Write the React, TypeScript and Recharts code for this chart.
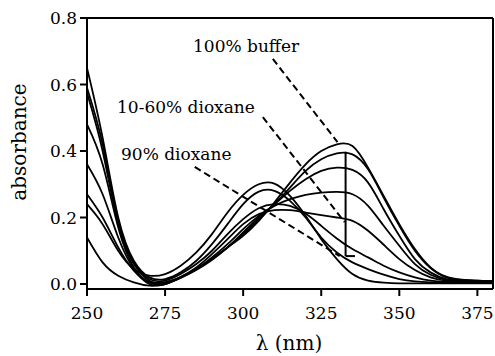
import { Line, LineChart, ReferenceLine, XAxis, YAxis } from 'recharts';

document.body.style.margin = '0';

const wavelength = [
  250, 255, 260, 265, 270, 275, 280, 285, 290, 295, 300, 305, 310, 315, 320, 325, 330, 335, 340, 345,
  350, 355, 360, 365, 370, 375, 380,
];

// absorbance, one list per dioxane fraction
const buffer100 = [
  0.14, 0.065, 0.025, 0.005, -0.005, 0.0, 0.02, 0.045, 0.075, 0.11, 0.145, 0.19, 0.245, 0.305, 0.36,
  0.4, 0.42, 0.415, 0.35, 0.265, 0.18, 0.105, 0.05, 0.022, 0.013, 0.01, 0.008,
];
const dioxane10 = [
  0.27, 0.2, 0.11, 0.04, 0.005, 0.005, 0.02, 0.045, 0.075, 0.11, 0.15, 0.195, 0.24, 0.29, 0.34, 0.375,
  0.393, 0.39, 0.345, 0.26, 0.175, 0.1, 0.048, 0.02, 0.012, 0.01, 0.008,
];
const dioxane20 = [
  0.36, 0.27, 0.14, 0.045, 0.0, 0.0, 0.018, 0.042, 0.072, 0.11, 0.155, 0.2, 0.24, 0.28, 0.315, 0.34,
  0.35, 0.343, 0.305, 0.225, 0.145, 0.075, 0.035, 0.015, 0.01, 0.008, 0.008,
];
const dioxane30 = [
  0.48, 0.36, 0.17, 0.05, 0.005, 0.0, 0.02, 0.045, 0.08, 0.12, 0.165, 0.205, 0.235, 0.255, 0.268, 0.275,
  0.277, 0.27, 0.235, 0.175, 0.115, 0.06, 0.028, 0.013, 0.009, 0.008, 0.008,
];
const dioxane40 = [
  0.575, 0.4, 0.18, 0.06, 0.01, 0.005, 0.022, 0.05, 0.09, 0.135, 0.18, 0.21, 0.222, 0.222, 0.215, 0.207,
  0.2, 0.19, 0.16, 0.118, 0.075, 0.042, 0.02, 0.01, 0.008, 0.008, 0.008,
];
const dioxane50 = [
  0.59, 0.42, 0.19, 0.065, 0.015, 0.01, 0.03, 0.06, 0.1, 0.15, 0.195, 0.228, 0.24, 0.235, 0.212, 0.175,
  0.137, 0.105, 0.08, 0.055, 0.035, 0.02, 0.01, 0.006, 0.005, 0.005, 0.005,
];
const dioxane60 = [
  0.65, 0.44, 0.2, 0.07, 0.02, 0.015, 0.035, 0.07, 0.12, 0.18, 0.24, 0.278, 0.28, 0.25, 0.2, 0.14,
  0.095, 0.065, 0.045, 0.028, 0.015, 0.008, 0.005, 0.004, 0.004, 0.004, 0.004,
];
const dioxane90 = [
  0.24, 0.18, 0.1, 0.045, 0.025, 0.03, 0.055, 0.095, 0.15, 0.215, 0.268, 0.3, 0.302, 0.265, 0.205, 0.135,
  0.075, 0.03, 0.01, 0.004, 0.002, 0.002, 0.002, 0.002, 0.002, 0.002, 0.002,
];

const seriesKeys = ['b100', 'd10', 'd20', 'd30', 'd40', 'd50', 'd60', 'd90'];
const seriesValues = [buffer100, dioxane10, dioxane20, dioxane30, dioxane40, dioxane50, dioxane60, dioxane90];

const xTicks = [250, 275, 300, 325, 350, 375];
const yTicks = [0, 0.2, 0.4, 0.6, 0.8];

// leader lines from the labels to the curves, [x1, y1, x2, y2] in data units
const leaders = [
  [309.5, 0.677, 330.2, 0.427],
  [306.3, 0.502, 332.5, 0.186],
  [284.5, 0.352, 330.9, 0.084],
];
const arrow = { x: 332.8, top: 0.398, bottom: 0.084, foot: 335.8 };

const data = wavelength.map((nm, i) => {
  const row: Record<string, number> = { nm };
  seriesKeys.forEach((k, s) => {
    row[k] = seriesValues[s][i];
  });
  return row;
});

const serif = { fontFamily: 'DejaVu Serif', fill: '#000' };

const XTick = ({ x, y, payload }: any) => (
  <text x={x} y={y + 12} textAnchor="middle" fontSize={17} style={serif}>
    {payload.value}
  </text>
);

const YTick = ({ x, y, payload }: any) => (
  <text x={x} y={y + 6} textAnchor="end" fontSize={17} style={serif}>
    {Number(payload.value).toFixed(1)}
  </text>
);

export default function App() {
  return (
    <div style={{ position: 'relative', width: 495, height: 356, background: '#fff' }}>
      <LineChart width={495} height={356} data={data} margin={{ top: 18, right: 2, left: 0, bottom: 0 }}>
        <XAxis
          dataKey="nm"
          type="number"
          domain={[250, 380]}
          ticks={xTicks}
          allowDataOverflow
          height={67}
          tickSize={7}
          tickMargin={11}
          tick={<XTick />}
          stroke="#000"
          strokeWidth={2}
        />
        <YAxis
          type="number"
          domain={[-0.015, 0.8]}
          ticks={yTicks}
          allowDataOverflow
          width={87}
          tickSize={7}
          tickMargin={3}
          tick={<YTick />}
          stroke="#000"
          strokeWidth={2}
        />
        <ReferenceLine y={0.8} stroke="#000" strokeWidth={2} />
        <ReferenceLine x={380} stroke="#000" strokeWidth={2} />
        {seriesKeys.map((k) => (
          <Line
            key={k}
            dataKey={k}
            type="natural"
            stroke="#000"
            strokeWidth={1.8}
            dot={false}
            isAnimationActive={false}
          />
        ))}
        {leaders.map(([x1, y1, x2, y2], i) => (
          <ReferenceLine
            key={`lead-${i}`}
            segment={[
              { x: x1, y: y1 },
              { x: x2, y: y2 },
            ]}
            stroke="#000"
            strokeWidth={2}
            strokeDasharray="7 4"
          />
        ))}
        <ReferenceLine
          segment={[
            { x: arrow.x, y: arrow.top },
            { x: arrow.x, y: arrow.bottom },
          ]}
          stroke="#000"
          strokeWidth={2}
        />
        <ReferenceLine
          segment={[
            { x: arrow.x, y: arrow.bottom },
            { x: arrow.foot, y: arrow.bottom },
          ]}
          stroke="#000"
          strokeWidth={2}
        />
      </LineChart>
      <svg
        width={495}
        height={356}
        style={{ position: 'absolute', left: 0, top: 0, pointerEvents: 'none' }}
      >
        <text x={193} y={52} fontSize={17} style={serif}>100% buffer</text>
        <text x={117} y={113} fontSize={17} style={serif}>10-60% dioxane</text>
        <text x={121} y={160} fontSize={17} style={serif}>90% dioxane</text>
        <text x={289} y={350} fontSize={20} textAnchor="middle" style={serif}>λ (nm)</text>
        <text x={26} y={142} fontSize={20} textAnchor="middle" transform="rotate(-90 26 142)" style={serif}>
          absorbance
        </text>
      </svg>
    </div>
  );
}
